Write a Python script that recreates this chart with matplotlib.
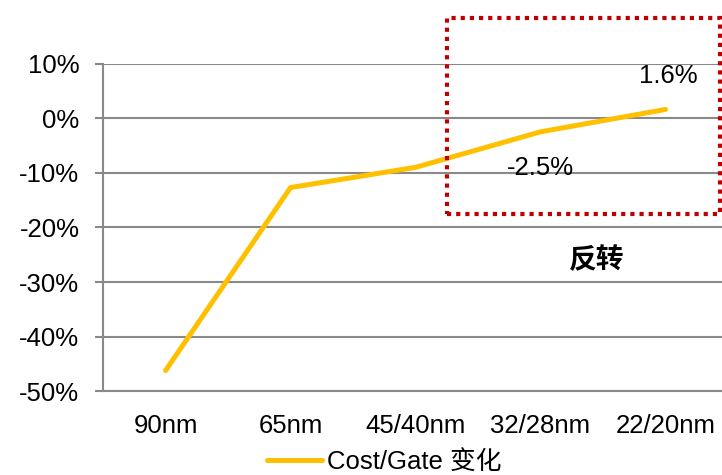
import matplotlib.pyplot as plt
from matplotlib.patches import Rectangle
from matplotlib.ticker import FuncFormatter

plt.rcParams["font.family"] = ["Liberation Sans", "Noto Sans CJK SC", "DejaVu Sans"]

# Cost per gate change by process node (%)
nodes = ["90nm", "65nm", "45/40nm", "32/28nm", "22/20nm"]
cost_change = [-46.2, -12.7, -9.0, -2.5, 1.6]
y_ticks = [-50, -40, -30, -20, -10, 0, 10]

grid_color = "#898989"
fs = 18.5

fig = plt.figure(figsize=(7.22, 4.75), dpi=100)
ax = fig.add_axes([0.1427, 0.1762, 0.8657, 0.690])

x = range(len(nodes))
line, = ax.plot(x, cost_change, color="#FFC000", linewidth=3.6,
                solid_capstyle="round", label="Cost/Gate 变化", zorder=3)

ax.set_xlim(-0.5, len(nodes) - 0.5)
ax.set_ylim(-50, 10)
ax.set_xticks(list(x))
ax.set_xticklabels(nodes)
ax.set_yticks(y_ticks)
ax.yaxis.set_major_formatter(FuncFormatter(lambda v, _: f"{v:.0f}%"))

ax.grid(axis="y", color=grid_color, linewidth=1.5)
ax.set_axisbelow(True)
for side in ["top", "right"]:
    ax.spines[side].set_visible(False)
for side in ["left", "bottom"]:
    ax.spines[side].set_color(grid_color)
    ax.spines[side].set_linewidth(1.5)

ax.tick_params(axis="y", length=6, width=1.5, color=grid_color, pad=11,
               labelsize=fs)
ax.tick_params(axis="x", length=0, pad=16, labelsize=fs)

# value labels for the last two nodes
ax.text(3.0, -9.2, f"{cost_change[3]}%", ha="center", va="center", fontsize=fs)
ax.text(4.02, 7.8, f"{cost_change[4]}%", ha="center", va="center", fontsize=fs)

# highlight box around the reversal
box = Rectangle((2.252, -17.6), 4.436 - 2.252, 18.4 + 17.6, fill=False,
                edgecolor="#C00000", linewidth=3, linestyle=(0, (1, 1.2)),
                clip_on=False, zorder=4)
ax.add_patch(box)
ax.text(3.452, -26.1, "反转", ha="center", va="center", fontsize=20,
        fontweight="bold")

fig.legend(handles=[line], loc="center", bbox_to_anchor=(0.532, 0.027),
           frameon=False, fontsize=fs, handlelength=2.15, handletextpad=0.2)

fig.savefig("out.png", dpi=100)
